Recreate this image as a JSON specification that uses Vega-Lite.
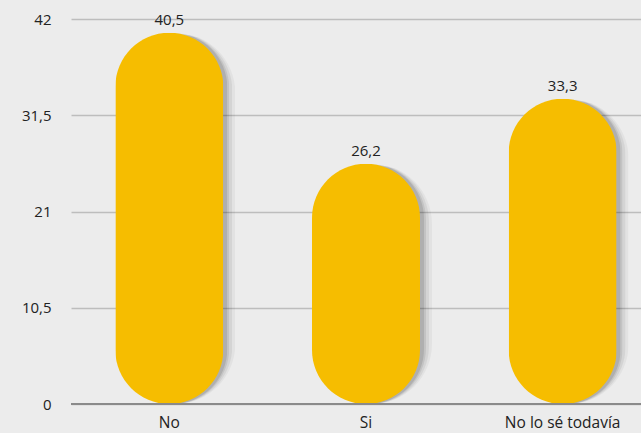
{
  "$schema": "https://vega.github.io/schema/vega-lite/v6.json",
  "width": 590,
  "height": 385,
  "autosize": {"type": "none"},
  "padding": {"left": 71, "top": 19, "right": 0, "bottom": 29},
  "background": "#ececec",
  "config": {
    "view": {"stroke": null},
    "font": "Open Sans",
    "locale": {"number": {"decimal": ",", "thousands": ".", "grouping": [3], "currency": ["", " €"]}}
  },
  "data": {
    "values": [
      {"respuesta": "No", "valor": 40.5},
      {"respuesta": "Si", "valor": 26.2},
      {"respuesta": "No lo sé todavía", "valor": 33.3}
    ]
  },
  "encoding": {
    "x": {
      "field": "respuesta",
      "type": "nominal",
      "sort": null,
      "scale": {"paddingInner": 0.45, "paddingOuter": 0.225},
      "axis": {
        "title": null,
        "labelAngle": 0,
        "labelFontSize": 15.5,
        "labelColor": "#222222",
        "labelPadding": 11,
        "ticks": false,
        "domain": false,
        "grid": false
      }
    },
    "y": {
      "field": "valor",
      "type": "quantitative",
      "scale": {"domain": [0, 42], "nice": false},
      "axis": {
        "title": null,
        "values": [0, 10.5, 21, 31.5, 42],
        "labelExpr": "replace(toString(datum.value), '.', ',')",
        "labelFontSize": 15,
        "labelColor": "#222222",
        "labelPadding": 20,
        "ticks": false,
        "domain": false,
        "gridColor": "#bdbdbd",
        "gridWidth": 1.5
      }
    }
  },
  "layer": [
    {
      "mark": {"type": "bar", "color": "#000000", "opacity": 0.04, "cornerRadius": 60, "size": 120, "xOffset": 6, "yOffset": 4}
    },
    {
      "mark": {"type": "bar", "color": "#000000", "opacity": 0.06, "cornerRadius": 58, "size": 116, "xOffset": 5, "yOffset": 3}
    },
    {
      "mark": {"type": "bar", "color": "#000000", "opacity": 0.08, "cornerRadius": 56, "size": 112, "xOffset": 4, "yOffset": 2}
    },
    {
      "mark": {"type": "bar", "color": "#000000", "opacity": 0.1, "cornerRadius": 55, "size": 110, "xOffset": 3, "yOffset": 1}
    },
    {
      "mark": {"type": "bar", "color": "#f6bd00", "cornerRadius": 54, "size": 108}
    },
    {
      "mark": {"type": "rule", "color": "#8a8a8a", "strokeWidth": 2},
      "encoding": {"x": null, "y": {"datum": 0, "type": "quantitative"}}
    },
    {
      "mark": {"type": "text", "baseline": "bottom", "dy": -5, "fontSize": 15, "color": "#222222"},
      "encoding": {"text": {"field": "valor", "type": "quantitative", "format": ".1f"}}
    }
  ]
}
